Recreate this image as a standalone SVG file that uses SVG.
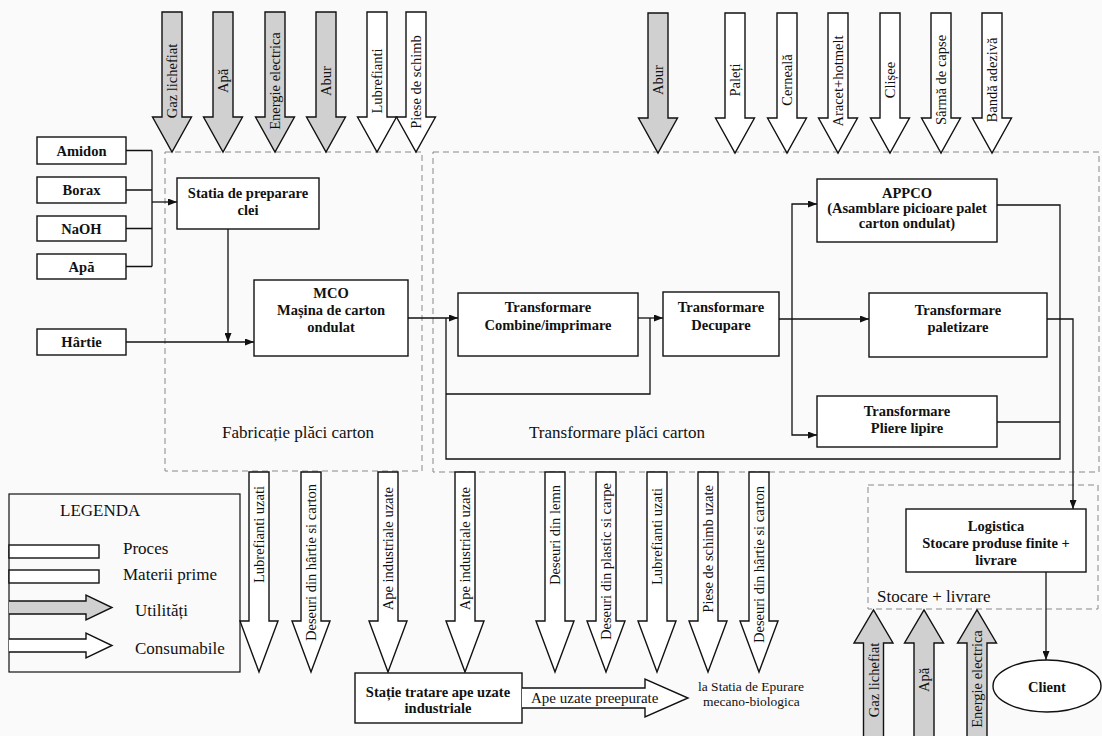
<svg xmlns="http://www.w3.org/2000/svg" xmlns:xlink="http://www.w3.org/1999/xlink" width="1102" height="736" viewBox="0 0 1102 736">
<style>
text{font-family:"Liberation Serif","Times New Roman",serif;fill:#111}
.box{fill:#fff;stroke:#111;stroke-width:1.4}
.lbl{font-size:14.5px;font-weight:bold;text-anchor:middle}
.dash{fill:none;stroke:#888;stroke-width:1;stroke-dasharray:6,4}
.util{fill:#d0d0d0;stroke:#111;stroke-width:1.4}
.cons{fill:#fff;stroke:#111;stroke-width:1.4}
.at{font-size:14.5px}
.big{font-size:17px}
.con{fill:none;stroke:#111;stroke-width:1.3}
</style>
<defs>
<marker id="ah" markerWidth="9" markerHeight="7" refX="9" refY="3.5" orient="auto" markerUnits="userSpaceOnUse">
<path d="M0,0 L9,3.5 L0,7 Z" fill="#111"/>
</marker>
<path id="topA" d="M-10,0 H10 V105 H19.5 L0,140 L-19.5,105 H-10 Z"/>
<path id="botA" d="M-10,0 H10 V149 H19 L0,200 L-19,149 H-10 Z"/>
<path id="upA" d="M-10,140 V33 H-19.5 L0,0 L19.5,33 H10 V140"/>
</defs>
<rect width="1102" height="736" fill="#fafafa"/>

<g id="regions">
<rect class="dash" x="165" y="152" width="257" height="319"/>
<rect class="dash" x="433" y="152" width="666" height="320"/>
<rect class="dash" x="868" y="485" width="230" height="124"/>
<text class="big" x="298" y="438" text-anchor="middle">Fabricație plăci carton</text>
<text class="big" x="617" y="438" text-anchor="middle">Transformare plăci carton</text>
<text class="big" x="877" y="602">Stocare + livrare</text>
</g>

<g id="top-inputs">
<use href="#topA" class="util" x="172" y="12"/>
<use href="#topA" class="util" x="223" y="12"/>
<use href="#topA" class="util" x="275" y="12"/>
<use href="#topA" class="util" x="326" y="12"/>
<use href="#topA" class="cons" x="377" y="12"/>
<use href="#topA" class="cons" x="416" y="12"/>
<use href="#topA" class="util" x="658" y="13"/>
<use href="#topA" class="cons" x="735" y="13"/>
<use href="#topA" class="cons" x="787" y="13"/>
<use href="#topA" class="cons" x="838" y="13"/>
<use href="#topA" class="cons" x="890" y="13"/>
<use href="#topA" class="cons" x="941" y="13"/>
<use href="#topA" class="cons" x="992" y="13"/>
<g class="at" text-anchor="middle">
<text transform="translate(177,81) rotate(-90)">Gaz lichefiat</text>
<text transform="translate(228,81) rotate(-90)">Apă</text>
<text transform="translate(280,81) rotate(-90)">Energie electrica</text>
<text transform="translate(331,81) rotate(-90)">Abur</text>
<text transform="translate(382,81) rotate(-90)">Lubrefianti</text>
<text transform="translate(421,82) rotate(-90)">Piese de schimb</text>
<text transform="translate(663,80) rotate(-90)">Abur</text>
<text transform="translate(740,80) rotate(-90)">Paleți</text>
<text transform="translate(792,80) rotate(-90)">Cerneală</text>
<text transform="translate(843,81) rotate(-90)">Aracet+hotmelt</text>
<text transform="translate(895,80) rotate(-90)">Clișee</text>
<text transform="translate(946,80) rotate(-90)">Sârmă de capse</text>
<text transform="translate(997,80) rotate(-90)">Bandă adezivă</text>
</g>
</g>

<g id="bottom-outputs">
<use href="#botA" class="cons" x="259" y="472"/>
<use href="#botA" class="cons" x="311" y="472"/>
<use href="#botA" class="cons" x="388" y="472"/>
<use href="#botA" class="cons" x="465" y="472"/>
<use href="#botA" class="cons" x="555" y="472"/>
<use href="#botA" class="cons" x="606" y="472"/>
<use href="#botA" class="cons" x="657" y="472"/>
<use href="#botA" class="cons" x="708" y="472"/>
<use href="#botA" class="cons" x="759" y="472"/>
<g class="at" text-anchor="end">
<text transform="translate(264,486) rotate(-90)">Lubrefianti uzati</text>
<text transform="translate(316,484) rotate(-90)">Deseuri din hârtie si carton</text>
<text transform="translate(393,487) rotate(-90)">Ape industriale uzate</text>
<text transform="translate(470,487) rotate(-90)">Ape industriale uzate</text>
<text transform="translate(560,485) rotate(-90)">Deseuri din lemn</text>
<text transform="translate(611,483) rotate(-90)">Deseuri din plastic si carpe</text>
<text transform="translate(662,488) rotate(-90)">Lubrefianti uzati</text>
<text transform="translate(713,485) rotate(-90)">Piese de schimb uzate</text>
<text transform="translate(764,486) rotate(-90)">Deseuri din hârtie si carton</text>
</g>
</g>

<g id="utilities-logistics">
<use href="#upA" class="util" x="873.5" y="610"/>
<use href="#upA" class="util" x="924" y="610"/>
<use href="#upA" class="util" x="977" y="610"/>
<g class="at" text-anchor="middle">
<text transform="translate(878.5,680) rotate(-90)">Gaz lichefiat</text>
<text transform="translate(929,680) rotate(-90)">Apă</text>
<text transform="translate(982,679) rotate(-90)">Energie electrica</text>
</g>
</g>

<g id="connectors">
<path class="con" d="M126,150.5 H152 M126,190 H152 M126,228.5 H152 M126,266.5 H152 M152,150.5 V266.5"/>
<path class="con" d="M152,202 H177" marker-end="url(#ah)"/>
<path class="con" d="M228,229 V342" marker-end="url(#ah)"/>
<path class="con" d="M126,342 H254" marker-end="url(#ah)"/>
<path class="con" d="M408,318 H458" marker-end="url(#ah)"/>
<path class="con" d="M446,318 V459 H1060 V205 H997"/>
<path class="con" d="M446,394 H650 V318"/>
<path class="con" d="M638,318 H663" marker-end="url(#ah)"/>
<path class="con" d="M779,319 H869" marker-end="url(#ah)"/>
<path class="con" d="M792,319 V204 H817" marker-end="url(#ah)"/>
<path class="con" d="M792,319 V435 H817" marker-end="url(#ah)"/>
<path class="con" d="M997,422 H1060"/>
<path class="con" d="M1047,319 H1073 V509" marker-end="url(#ah)"/>
<path class="con" d="M1046,572 V660" marker-end="url(#ah)"/>
</g>

<g id="amidon"><rect class="box" x="37" y="137" width="89" height="27"/><text class="lbl" x="81.5" y="155.5">Amidon</text></g>
<g id="borax"><rect class="box" x="37" y="177" width="89" height="26"/><text class="lbl" x="81.5" y="195">Borax</text></g>
<g id="naoh"><rect class="box" x="37" y="216" width="89" height="25"/><text class="lbl" x="81.5" y="233.5">NaOH</text></g>
<g id="apa"><rect class="box" x="37" y="254" width="89" height="25"/><text class="lbl" x="81.5" y="271.5">Apă</text></g>
<g id="hartie"><rect class="box" x="37" y="329" width="89" height="26"/><text class="lbl" x="81.5" y="347">Hârtie</text></g>

<g id="statia-clei"><rect class="box" x="177" y="178" width="142" height="51"/>
<text class="lbl" x="248" y="198">Statia de preparare</text><text class="lbl" x="248" y="215">clei</text></g>

<g id="mco"><rect class="box" x="254" y="280" width="154" height="76"/>
<text class="lbl" x="331" y="298">MCO</text><text class="lbl" x="331" y="315">Mașina de carton</text><text class="lbl" x="331" y="332">ondulat</text></g>

<g id="combine"><rect class="box" x="458" y="293" width="180" height="63"/>
<text class="lbl" x="548" y="312">Transformare</text><text class="lbl" x="548" y="330">Combine/imprimare</text></g>

<g id="decupare"><rect class="box" x="663" y="292" width="116" height="64"/>
<text class="lbl" x="721" y="312">Transformare</text><text class="lbl" x="721" y="330">Decupare</text></g>

<g id="appco"><rect class="box" x="817" y="179" width="180" height="63"/>
<text class="lbl" x="907" y="198">APPCO</text><text class="lbl" x="907" y="213">(Asamblare picioare palet</text><text class="lbl" x="907" y="228">carton ondulat)</text></g>

<g id="paletizare"><rect class="box" x="869" y="293" width="178" height="64"/>
<text class="lbl" x="958" y="315">Transformare</text><text class="lbl" x="958" y="332">paletizare</text></g>

<g id="pliere"><rect class="box" x="817" y="396" width="180" height="51"/>
<text class="lbl" x="907" y="416">Transformare</text><text class="lbl" x="907" y="433">Pliere lipire</text></g>

<g id="logistica"><rect class="box" x="906" y="509" width="180" height="63"/>
<text class="lbl" x="996" y="531">Logistica</text><text class="lbl" x="996" y="548">Stocare produse finite +</text><text class="lbl" x="996" y="565">livrare</text></g>

<g id="client"><ellipse class="box" cx="1047" cy="686" rx="54" ry="26"/><text class="lbl" x="1047" y="692">Client</text></g>

<g id="statie-tratare"><rect class="box" x="355" y="673" width="167" height="50"/>
<text class="lbl" x="438" y="697">Stație tratare ape uzate</text><text class="lbl" x="438" y="713">industriale</text></g>

<g id="ape-preepurate"><path class="cons" d="M522,688 H645 V679 L688,698 L645,717 V708 H522"/>
<text x="531" y="703" font-size="15px">Ape uzate preepurate</text></g>

<g id="statia-epurare"><text x="698" y="691" font-size="13.5px">la Statia de Epurare</text><text x="703" y="706" font-size="13.5px">mecano-biologica</text></g>

<g id="legenda">
<rect x="9" y="494" width="231" height="178" fill="none" stroke="#111" stroke-width="1.2"/>
<text x="60" y="516" font-size="17px">LEGENDA</text>
<rect class="box" x="9" y="545" width="90" height="13"/>
<text class="big" x="123" y="554">Proces</text>
<rect class="box" x="9" y="570" width="90" height="13"/>
<text class="big" x="123" y="580">Materii prime</text>
<path class="util" d="M9,601 H86 V595 L112,607.5 L86,620 V614 H9"/>
<text class="big" x="135" y="616">Utilități</text>
<path class="cons" d="M9,639 H86 V633 L112,645.5 L86,658 V652 H9"/>
<text class="big" x="135" y="654">Consumabile</text>
</g>
</svg>
